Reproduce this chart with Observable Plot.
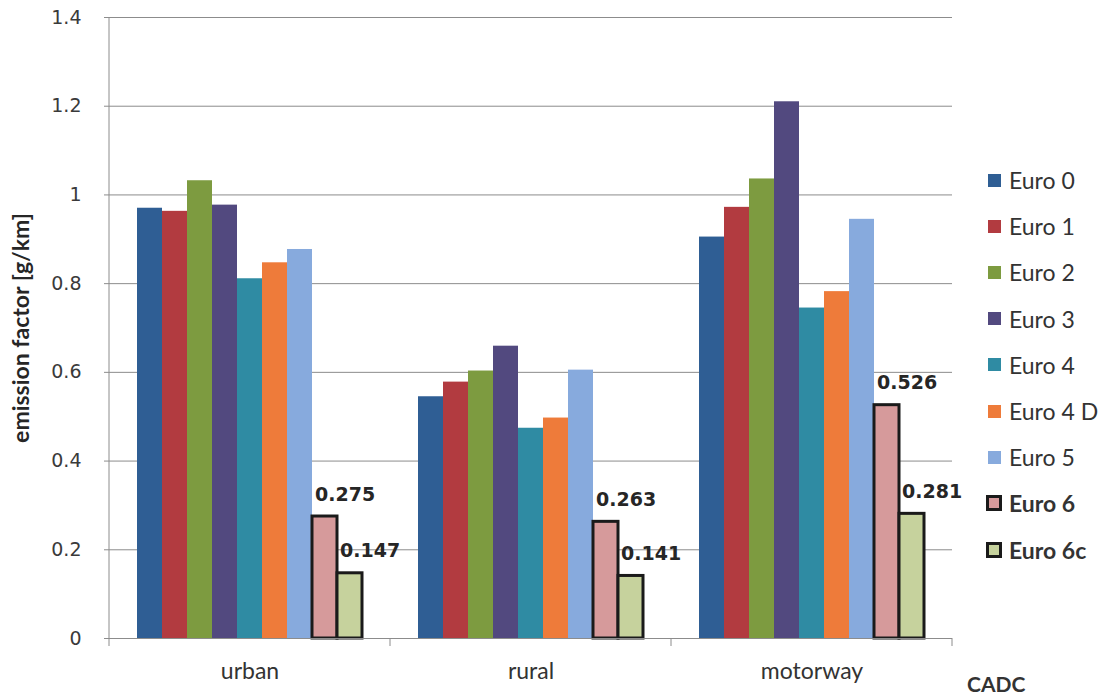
<!DOCTYPE html>
<html><head><meta charset="utf-8">
<script src="https://cdn.jsdelivr.net/npm/d3@7"></script>
<script src="https://cdn.jsdelivr.net/npm/@observablehq/plot@0.6"></script>
<style>
body{margin:0;background:#fff;}
#wrap{position:relative;width:1108px;height:695px;overflow:hidden;}
#legend{position:absolute;left:984px;top:157px;font-family:Lato,sans-serif;font-size:23px;color:#333;}
#legend .item{height:46.2px;display:flex;align-items:center;}
#legend .sw{display:inline-block;width:13px;height:13px;margin-right:8px;margin-left:4px;box-sizing:border-box;}
#legend .bold{font-weight:bold;}
#legend .bold .sw{width:16px;height:16px;border:3px solid #1a1a1a;margin-left:2px;margin-right:7px;}
#cadc{position:absolute;left:967px;top:673px;line-height:1;font-family:Lato,sans-serif;font-weight:bold;font-size:21px;color:#333;}
</style></head><body><div id="wrap"></div>
<script>
const categories = ["urban", "rural", "motorway"];
const series = ["Euro 0", "Euro 1", "Euro 2", "Euro 3", "Euro 4", "Euro 4 D", "Euro 5", "Euro 6", "Euro 6c"];
const urban    = [0.970, 0.963, 1.032, 0.977, 0.811, 0.847, 0.877, 0.275, 0.147];
const rural    = [0.545, 0.578, 0.603, 0.659, 0.474, 0.497, 0.605, 0.263, 0.141];
const motorway = [0.905, 0.972, 1.036, 1.210, 0.745, 0.782, 0.945, 0.526, 0.281];
const colors = ["#2f5e94", "#b23b40", "#7d9b40", "#52497f", "#2f8ba3", "#ee7b3a", "#87aadd", "#d69a9b", "#c6d29d"];
const labeledSeries = ["Euro 6", "Euro 6c"];
const yTicks = [0, 0.2, 0.4, 0.6, 0.8, 1, 1.2, 1.4];
const yTitle = "emission factor [g/km]";
const cornerLabel = "CADC";

const valuesBy = {urban, rural, motorway};
const data = [];
categories.forEach(c => series.forEach((s, j) => data.push({category: c, series: s, value: valuesBy[c][j]})));
const labeled = data.filter(d => labeledSeries.includes(d.series));

const plot = Plot.plot({
  width: 1108, height: 695,
  marginLeft: 108, marginRight: 155, marginTop: 17, marginBottom: 57,
  style: {fontFamily: "DejaVu Sans, sans-serif", fontSize: "18px", color: "#333", background: "transparent"},
  fx: {domain: categories, padding: 0, label: null},
  x: {domain: series, paddingInner: 0, paddingOuter: 1.0, axis: null},
  y: {domain: [0, 1.4], label: null},
  color: {domain: series, range: colors},
  marks: [
    Plot.gridY(yTicks, {stroke: "#8c8c8c", strokeOpacity: 1, strokeWidth: 1}),
    Plot.barY(data, {fx: "category", x: "series", y: "value", fill: "series"}),
    Plot.barY(labeled, {fx: "category", x: "series", y: "value", fill: "series", stroke: "#1a1a1a", strokeWidth: 3}),
    Plot.text(labeled, {fx: "category", x: "series", y: "value", text: d => d.value.toFixed(3),
      textAnchor: "start", dx: -10, dy: -22, fontWeight: "bold", fontSize: 19, fill: "#262626"}),
    Plot.ruleY([0], {stroke: "#8c8c8c"}),
    Plot.axisY({ticks: yTicks, tickFormat: d3.format("~g"), tickSize: 5, tickPadding: 23, stroke: "#8c8c8c",
      fill: "#3a3a3a", fontSize: 19, label: null, fontFamily: "DejaVu Sans"}),
    Plot.text([yTitle], {frameAnchor: "left", textAnchor: "middle", rotate: -90, dx: -88, facetAnchor: "left",
      fontFamily: "Lato, sans-serif", fontWeight: "bold", fontSize: 23, fill: "#262626"}),
    Plot.axisFx({anchor: "bottom", tickSize: 0, tickPadding: 24, fontFamily: "Lato, sans-serif", fontSize: 23, fill: "#333", label: null})
  ]
});

// axis line and category boundary ticks from the plot's own scales
const fx = plot.scale("fx"), ys = plot.scale("y");
const svg = d3.select(plot);
const g = svg.append("g").attr("stroke", "#8c8c8c");
const x0 = fx.apply(categories[0]);
g.append("line").attr("x1", x0).attr("x2", x0).attr("y1", ys.apply(0)).attr("y2", ys.apply(1.4));
const bounds = categories.map(c => fx.apply(c)).concat([fx.apply(categories[categories.length - 1]) + fx.bandwidth]);
bounds.forEach(b => g.append("line").attr("x1", b).attr("x2", b).attr("y1", ys.apply(0)).attr("y2", ys.apply(0) + 8));

const wrap = document.getElementById("wrap");
wrap.appendChild(plot);

const legend = document.createElement("div");
legend.id = "legend";
series.forEach((s, i) => {
  const item = document.createElement("div");
  item.className = "item" + (labeledSeries.includes(s) ? " bold" : "");
  const sw = document.createElement("span");
  sw.className = "sw";
  sw.style.background = colors[i];
  item.appendChild(sw);
  item.appendChild(document.createTextNode(s));
  legend.appendChild(item);
});
wrap.appendChild(legend);

const cadc = document.createElement("div");
cadc.id = "cadc";
cadc.textContent = cornerLabel;
wrap.appendChild(cadc);
</script>
</body></html>
